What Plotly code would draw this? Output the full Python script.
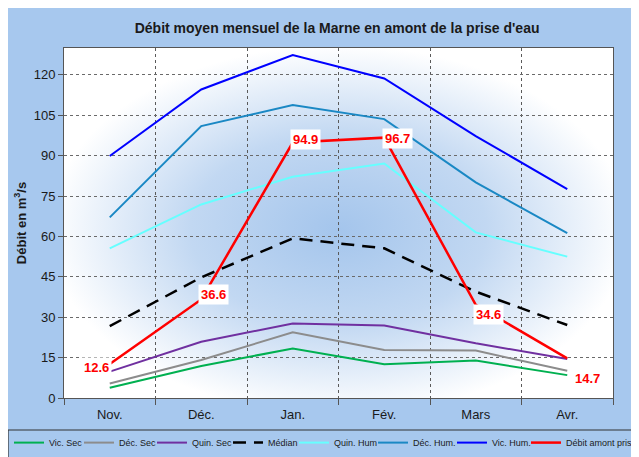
import base64
import plotly.graph_objects as go

# Données (m3/s)
mois = ['Nov.', 'Déc.', 'Jan.', 'Fév.', 'Mars', 'Avr.']
vic_sec = [3.8, 11.9, 18.4, 12.5, 13.9, 8.5]
dec_sec = [5.4, 14.1, 24.4, 17.8, 17.6, 10.1]
quin_sec = [9.8, 20.9, 27.7, 26.9, 20.3, 14.5]
median = [26.7, 44.8, 59.3, 55.6, 39.5, 27.1]
quin_hum = [55.6, 71.9, 82.2, 87.1, 61.5, 52.5]
dec_hum = [67.1, 101.0, 108.8, 103.6, 80.1, 61.2]
vic_hum = [89.9, 114.6, 127.4, 118.7, 97.3, 77.6]
debit_amont = [12.6, 36.6, 94.9, 96.7, 34.6, 14.7]

BG = '#a7c8ee'
FONT = 'Arial, Liberation Sans, sans-serif'
xs = list(range(len(mois)))

# nom, valeurs, style, légende, largeur de l'entrée de légende (px)
series = [
    ('Vic. Sec', vic_sec, dict(color='#00b050', width=2), 'legend', 25),
    ('Déc. Sec', dec_sec, dict(color='#8c8c8c', width=2), 'legend', 28),
    ('Quin. Sec', quin_sec, dict(color='#7030a0', width=2), 'legend', 31),
    ('Médian', median, dict(color='black', width=2.5, dash='13px,8px'), 'legend', 21),
    ('Quin. Hum.', quin_hum, dict(color='#66ffff', width=2), 'legend', 38),
    ('Déc. Hum.', dec_hum, dict(color='#1a88c4', width=2), 'legend2', 34),
    ('Vic. Hum.', vic_hum, dict(color='#0000ff', width=2), 'legend2', 29),
    ('Débit amont prise', debit_amont, dict(color='#ff0000', width=2.5), 'legend2', 75),
]

fig = go.Figure()
for name, vals, line, leg, lw in series:
    fig.add_trace(go.Scatter(x=xs, y=vals, name=name, mode='lines', line=line,
                             legend=leg, legendwidth=lw))

# étiquettes de la courbe rouge (décalages en px)
shifts = [(-13, -3), (12, 5), (13, 3), (13, -1), (13, -10), (20, -20)]
for i, v in enumerate(debit_amont):
    fig.add_annotation(x=i, y=v, text=f'<b>{v}</b>', showarrow=False,
                       xshift=shifts[i][0], yshift=shifts[i][1],
                       font=dict(family=FONT, size=13, color='#ff0000'),
                       bgcolor='white', borderpad=2)

# fond dégradé radial de la zone de tracé
svg = ("<svg xmlns='http://www.w3.org/2000/svg' width='549' height='350' "
       "viewBox='0 0 549 350' preserveAspectRatio='none'>"
       "<defs><radialGradient id='g' cx='0.5' cy='0.52' r='0.6'>"
       "<stop offset='0' stop-color='#a4c5ec'/>"
       "<stop offset='0.45' stop-color='#c2d8f2'/>"
       "<stop offset='0.88' stop-color='#ffffff'/>"
       "<stop offset='1' stop-color='#ffffff'/></radialGradient></defs>"
       "<rect width='549' height='350' fill='#ffffff'/>"
       "<rect width='549' height='350' fill='url(#g)'/></svg>")
src = 'data:image/svg+xml;base64,' + base64.b64encode(svg.encode()).decode()

legend_style = dict(orientation='h', yanchor='top', xanchor='left',
                    bgcolor='rgba(0,0,0,0)', borderwidth=0,
                    font=dict(size=9, color='#1a1a1a'), itemwidth=30)

fig.update_layout(
    width=639, height=457,
    margin=dict(l=56, r=34, t=40, b=67, autoexpand=False),
    paper_bgcolor=BG,
    plot_bgcolor='white',
    font=dict(family=FONT, size=12, color='#1a1a1a'),
    title=dict(text="<b>Débit moyen mensuel de la Marne en amont de la prise d'eau</b>",
               x=0.515, xanchor='center', y=0.956, yanchor='middle',
               font=dict(size=14, color='#1a1a1a')),
    images=[dict(source=src, xref='paper', yref='paper', x=0, y=1,
                 sizex=1, sizey=1, xanchor='left', yanchor='top',
                 sizing='stretch', layer='below')],
    # cadre de la légende
    shapes=[dict(type='rect', xref='paper', yref='paper', x0=-0.102, x1=1.09,
                 y0=-0.0914, y1=-0.23, line=dict(color='#333333', width=1.2),
                 fillcolor='rgba(0,0,0,0)')],
    xaxis=dict(range=[-0.5, 5.5], tickmode='array', tickvals=xs, ticktext=mois,
               showgrid=False, zeroline=False, ticks='',
               showline=True, linecolor='#555555', linewidth=1, mirror=True,
               tickfont=dict(size=13), ticklabelstandoff=4,
               minor=dict(tick0=-0.5, dtick=1, ticks='outside', ticklen=6,
                          tickcolor='#555555', showgrid=True,
                          gridcolor='#5a5a5a', griddash='dot', gridwidth=1)),
    yaxis=dict(range=[0, 130], tickmode='array', tickvals=list(range(0, 121, 15)),
               showgrid=True, gridcolor='#6a6a6a', griddash='dot', gridwidth=1,
               zeroline=False, ticks='outside', ticklen=5, tickcolor='#555555',
               showline=True, linecolor='#555555', linewidth=1, mirror=True,
               tickfont=dict(size=13),
               title=dict(text='<b>Débit en m<sup>3</sup>/s</b>', standoff=4,
                          font=dict(size=13))),
    legend=dict(x=-0.1002, y=-0.086, **legend_style),
    legend2=dict(x=0.5628, y=-0.086, **legend_style),
    showlegend=True,
)

fig.write_html("out.html")
